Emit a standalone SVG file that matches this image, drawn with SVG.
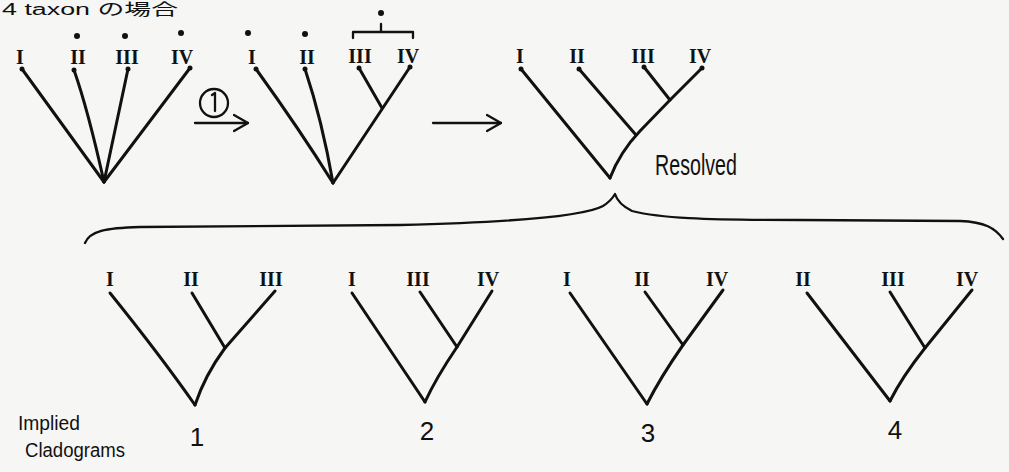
<svg xmlns="http://www.w3.org/2000/svg" width="1009" height="472" viewBox="0 0 1009 472">
<style>
.bg{fill:#f6f6f4}
.br{fill:none;stroke:#111;stroke-width:3;stroke-linecap:round;stroke-linejoin:round}
.thin{fill:none;stroke:#111;stroke-width:2.3;stroke-linecap:round;stroke-linejoin:round}
.dot{fill:#111}
.rn{font-family:"Liberation Serif",serif;font-weight:bold;font-size:20px;fill:#111;text-anchor:middle}
.num{font-family:"Liberation Sans",sans-serif;font-size:26px;fill:#111;text-anchor:middle}
.hw{font-family:"Liberation Sans",sans-serif;fill:#111}
.title{font-family:"Liberation Sans","Noto Sans CJK JP",sans-serif;font-size:16px;fill:#111}
</style>
<defs>
<marker id="ah" viewBox="0 0 16 20" refX="15" refY="10" markerWidth="16" markerHeight="20" markerUnits="userSpaceOnUse" orient="auto">
<path d="M1,2 L15,10 L1,18" fill="none" stroke="#111" stroke-width="2.3" stroke-linecap="round" stroke-linejoin="round"/>
</marker>
</defs>
<rect class="bg" x="0" y="0" width="1009" height="472"/>
<text class="title" x="2" y="15" textLength="176" lengthAdjust="spacingAndGlyphs">4 taxon の場合</text>

<g id="tree-a">
<line class="br" x1="22" y1="69" x2="104" y2="182"/>
<path class="br" d="M74,70 Q88,110 104,182"/>
<line class="br" x1="128" y1="69" x2="104" y2="182"/>
<line class="br" x1="190" y1="68" x2="104" y2="182"/>
<circle class="dot" cx="22" cy="69" r="2.5"/><circle class="dot" cx="74" cy="70" r="2.5"/><circle class="dot" cx="128" cy="69" r="2.5"/><circle class="dot" cx="190" cy="68" r="2.5"/>
<circle class="dot" cx="77" cy="36" r="3"/><circle class="dot" cx="125" cy="36" r="3"/><circle class="dot" cx="181" cy="33" r="3"/>
<text class="rn" x="20" y="64">I</text>
<text class="rn" x="78" y="64">II</text>
<text class="rn" x="127" y="64">III</text>
<text class="rn" x="182" y="64">IV</text>
</g>

<g id="tree-b">
<path class="br" d="M256,69 Q300,130 333,183"/>
<path class="br" d="M305,69 Q322,120 333,183"/>
<line class="br" x1="410" y1="67" x2="333" y2="183"/>
<line class="br" x1="359" y1="68" x2="382" y2="108"/>
<circle class="dot" cx="256" cy="69" r="2.5"/><circle class="dot" cx="305" cy="69" r="2.5"/><circle class="dot" cx="359" cy="68" r="2.5"/><circle class="dot" cx="410" cy="67" r="2.5"/>
<circle class="dot" cx="248" cy="33" r="3"/><circle class="dot" cx="305" cy="34" r="3"/>
<path class="thin" d="M353,38 L353,32 L413,32 L413,38 M381,32 L381,24"/>
<circle class="dot" cx="381" cy="13" r="3"/>
<text class="rn" x="252" y="64">I</text>
<text class="rn" x="307" y="64">II</text>
<text class="rn" x="360" y="63">III</text>
<text class="rn" x="408" y="63">IV</text>
</g>

<g id="tree-c">
<line class="br" x1="521" y1="69" x2="610" y2="178"/>
<path class="br" d="M702,68 L670,100 L640,131 Q620,152 610,178"/>
<line class="br" x1="579" y1="69" x2="636" y2="135"/>
<line class="br" x1="644" y1="67" x2="670" y2="100"/>
<circle class="dot" cx="521" cy="69" r="2.5"/><circle class="dot" cx="579" cy="69" r="2.5"/><circle class="dot" cx="644" cy="67" r="2.5"/><circle class="dot" cx="702" cy="68" r="2.5"/>
<text class="rn" x="520" y="63">I</text>
<text class="rn" x="577" y="63">II</text>
<text class="rn" x="643" y="63">III</text>
<text class="rn" x="700" y="63">IV</text>
<text class="hw" x="655" y="175" font-size="30" textLength="82" lengthAdjust="spacingAndGlyphs">Resolved</text>
</g>

<g id="connectors">
<circle class="thin" cx="214" cy="103" r="14"/>
<path class="thin" d="M212,95 L215,93 L215,111"/>
<line class="thin" x1="195" y1="123" x2="248" y2="123" marker-end="url(#ah)"/>
<line class="thin" x1="433" y1="123" x2="501" y2="123" marker-end="url(#ah)"/>
<path class="thin" d="M85,243 C90,231 105,228 140,227 L400,225 C520,222 585,216 603,206 Q611,201 615,194 Q618,204 632,211 C660,218 700,220 800,220 L960,221 C985,222 995,228 1003,239"/>
</g>

<g id="tree-1">
<path class="br" d="M110,293 Q160,355 195,405"/>
<path class="br" d="M275,291 L225,348 Q205,375 195,405"/>
<line class="br" x1="192" y1="293" x2="225" y2="348"/>
<text class="rn" x="110" y="286">I</text>
<text class="rn" x="191" y="286">II</text>
<text class="rn" x="271" y="286">III</text>
<text class="num" x="197" y="446">1</text>
</g>

<g id="tree-2">
<line class="br" x1="352" y1="293" x2="425" y2="402"/>
<path class="br" d="M492,291 L457,347 Q436,378 425,402"/>
<line class="br" x1="420" y1="292" x2="457" y2="347"/>
<text class="rn" x="352" y="286">I</text>
<text class="rn" x="418" y="286">III</text>
<text class="rn" x="488" y="286">IV</text>
<text class="num" x="427" y="440">2</text>
</g>

<g id="tree-3">
<line class="br" x1="570" y1="293" x2="647" y2="404"/>
<path class="br" d="M723,290 L683,345 Q660,378 647,404"/>
<line class="br" x1="645" y1="292" x2="683" y2="345"/>
<text class="rn" x="567" y="286">I</text>
<text class="rn" x="642" y="286">II</text>
<text class="rn" x="717" y="286">IV</text>
<text class="num" x="648" y="442">3</text>
</g>

<g id="tree-4">
<line class="br" x1="807" y1="293" x2="890" y2="401"/>
<path class="br" d="M972,290 L925,348 Q902,377 890,401"/>
<line class="br" x1="890" y1="292" x2="925" y2="348"/>
<text class="rn" x="803" y="286">II</text>
<text class="rn" x="893" y="286">III</text>
<text class="rn" x="967" y="286">IV</text>
<text class="num" x="895" y="439">4</text>
</g>

<g id="caption">
<text class="hw" x="18" y="430" font-size="20" textLength="62" lengthAdjust="spacingAndGlyphs">Implied</text>
<text class="hw" x="25" y="457" font-size="20" textLength="100" lengthAdjust="spacingAndGlyphs">Cladograms</text>
</g>
</svg>
